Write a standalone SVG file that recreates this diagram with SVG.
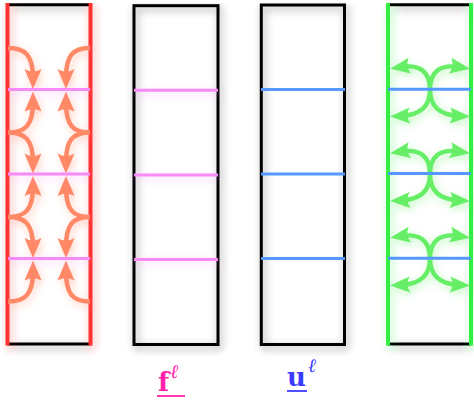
<svg xmlns="http://www.w3.org/2000/svg" width="474" height="403" viewBox="0 0 474 403">
<style>
.frame{stroke:#000;stroke-width:3;fill:none}
.rwall{stroke:#FF3333;stroke-width:4}
.gwall{stroke:#33EE44;stroke-width:4}
.mline{stroke:#F78AF7;stroke-width:3}
.bline{stroke:#5599FF;stroke-width:3}
.rarr{stroke:#FF8866;stroke-width:4.5;fill:none}
.garr{stroke:#66EE66;stroke-width:4.5;fill:none}
.lbl{font-family:"DejaVu Serif","Liberation Serif",serif;font-weight:bold}
.sup{font-family:"Liberation Serif","DejaVu Serif",serif;font-style:italic;font-weight:normal}
</style>
<defs>
<filter id="glow" filterUnits="userSpaceOnUse" x="0" y="0" width="474" height="403">
<feGaussianBlur in="SourceGraphic" stdDeviation="4" result="b"/>
<feOffset in="b" dx="2" dy="3" result="o"/>
<feComponentTransfer in="o" result="f"><feFuncA type="linear" slope="0.4"/></feComponentTransfer>
<feMerge><feMergeNode in="f"/><feMergeNode in="SourceGraphic"/></feMerge>
</filter>
<marker id="mr" markerUnits="userSpaceOnUse" markerWidth="40" markerHeight="40" viewBox="-20 -20 40 40" refX="0" refY="0" orient="auto" overflow="visible">
<path d="M11 0 L-9 -8.5 Q-4 0 -9 8.5 Z" fill="#FF8866"/>
</marker>
<marker id="mg" markerUnits="userSpaceOnUse" markerWidth="40" markerHeight="40" viewBox="-20 -20 40 40" refX="0" refY="0" orient="auto" overflow="visible">
<path d="M11 0 L-9 -8 Q-4 0 -9 8 Z" fill="#66EE66"/>
</marker>
</defs>
<rect width="474" height="403" fill="#fff"/>

<g id="panel1" filter="url(#glow)">
<line class="frame" x1="7.5" y1="4.7" x2="90.5" y2="4.7"/>
<line class="frame" x1="7.5" y1="344" x2="90.5" y2="344"/>
<line class="rwall" x1="7.5" y1="3" x2="7.5" y2="345.5"/>
<line class="rwall" x1="90.5" y1="3" x2="90.5" y2="345.5"/>
</g>

<g id="panel2" filter="url(#glow)">
<rect class="frame" x="134" y="5.7" width="84" height="338.8"/>
</g>

<g id="panel3" filter="url(#glow)">
<rect class="frame" x="261.3" y="5" width="83.2" height="339.5"/>
</g>

<g id="panel4" filter="url(#glow)">
<line class="frame" x1="388" y1="4.7" x2="471" y2="4.7"/>
<line class="frame" x1="388" y1="344" x2="471" y2="344"/>
<line class="gwall" x1="388" y1="3" x2="388" y2="345.5"/>
<line class="gwall" x1="471" y1="3" x2="471" y2="345.5"/>
</g>

<g id="connectors">
<g filter="url(#glow)">
<path class="rarr" marker-end="url(#mr)" d="M8 48 C25 48 33 55 33 78"/>
<path class="rarr" marker-end="url(#mr)" d="M90 48 C73 48 66 55 66 78"/>
<path class="rarr" marker-end="url(#mr)" d="M8 132.5 C25 132.5 33 125.5 33 102.5"/>
<path class="rarr" marker-end="url(#mr)" d="M90 132.5 C73 132.5 66 125.5 66 102.5"/>
<path class="rarr" marker-end="url(#mr)" d="M8 132.5 C25 132.5 33 139.5 33 162.5"/>
<path class="rarr" marker-end="url(#mr)" d="M90 132.5 C73 132.5 66 139.5 66 162.5"/>
<path class="rarr" marker-end="url(#mr)" d="M8 217 C25 217 33 210 33 187"/>
<path class="rarr" marker-end="url(#mr)" d="M90 217 C73 217 66 210 66 187"/>
<path class="rarr" marker-end="url(#mr)" d="M8 217 C25 217 33 224 33 247"/>
<path class="rarr" marker-end="url(#mr)" d="M90 217 C73 217 66 224 66 247"/>
<path class="rarr" marker-end="url(#mr)" d="M8 301.5 C25 301.5 33 294.5 33 271.5"/>
<path class="rarr" marker-end="url(#mr)" d="M90 301.5 C73 301.5 66 294.5 66 271.5"/>
</g>
<g filter="url(#glow)">
<path class="garr" marker-end="url(#mg)" d="M430 89.5 C430 72 420 64 401 67"/>
<path class="garr" marker-end="url(#mg)" d="M430 89.5 C430 72 440 64 459 67"/>
<path class="garr" marker-end="url(#mg)" d="M430 89.5 C430 107 420 115 401 116"/>
<path class="garr" marker-end="url(#mg)" d="M430 89.5 C430 107 440 115 459 116"/>
<path class="garr" marker-end="url(#mg)" d="M430 174 C430 156.5 420 148.5 401 151.5"/>
<path class="garr" marker-end="url(#mg)" d="M430 174 C430 156.5 440 148.5 459 151.5"/>
<path class="garr" marker-end="url(#mg)" d="M430 174 C430 191.5 420 199.5 401 200.5"/>
<path class="garr" marker-end="url(#mg)" d="M430 174 C430 191.5 440 199.5 459 200.5"/>
<path class="garr" marker-end="url(#mg)" d="M430 258.5 C430 241 420 233 401 236"/>
<path class="garr" marker-end="url(#mg)" d="M430 258.5 C430 241 440 233 459 236"/>
<path class="garr" marker-end="url(#mg)" d="M430 258.5 C430 276 420 284 401 285"/>
<path class="garr" marker-end="url(#mg)" d="M430 258.5 C430 276 440 284 459 285"/>
</g>
</g>

<g id="levels">
<g filter="url(#glow)">
<line class="mline" x1="8" y1="89.5" x2="90" y2="89.5"/>
<line class="mline" x1="8" y1="174" x2="90" y2="174"/>
<line class="mline" x1="8" y1="258.5" x2="90" y2="258.5"/>
<line class="mline" x1="134" y1="90.3" x2="218" y2="90.3"/>
<line class="mline" x1="134" y1="175" x2="218" y2="175"/>
<line class="mline" x1="134" y1="259.5" x2="218" y2="259.5"/>
</g>
<line class="bline" x1="261" y1="89.5" x2="345" y2="89.5"/>
<line class="bline" x1="261" y1="174" x2="345" y2="174"/>
<line class="bline" x1="261" y1="258.5" x2="345" y2="258.5"/>
<line class="bline" x1="388" y1="89.3" x2="471" y2="89.3"/>
<line class="bline" x1="388" y1="173.5" x2="471" y2="173.5"/>
<line class="bline" x1="388" y1="258.3" x2="471" y2="258.3"/>
</g>

<g id="label-f">
<text class="lbl" x="158" y="391" font-size="26" fill="#FF22AA">f<tspan class="sup" font-size="19" dx="1" dy="-13">ℓ</tspan></text>
<line x1="157" y1="396" x2="185" y2="396" stroke="#FF22AA" stroke-width="1.8"/>
</g>
<g id="label-u">
<text class="lbl" x="287" y="386" font-size="26" fill="#3B3BFF">u<tspan class="sup" font-size="19" dx="2" dy="-14">ℓ</tspan></text>
<line x1="287" y1="391" x2="307" y2="391" stroke="#3B3BFF" stroke-width="1.8"/>
</g>
</svg>
